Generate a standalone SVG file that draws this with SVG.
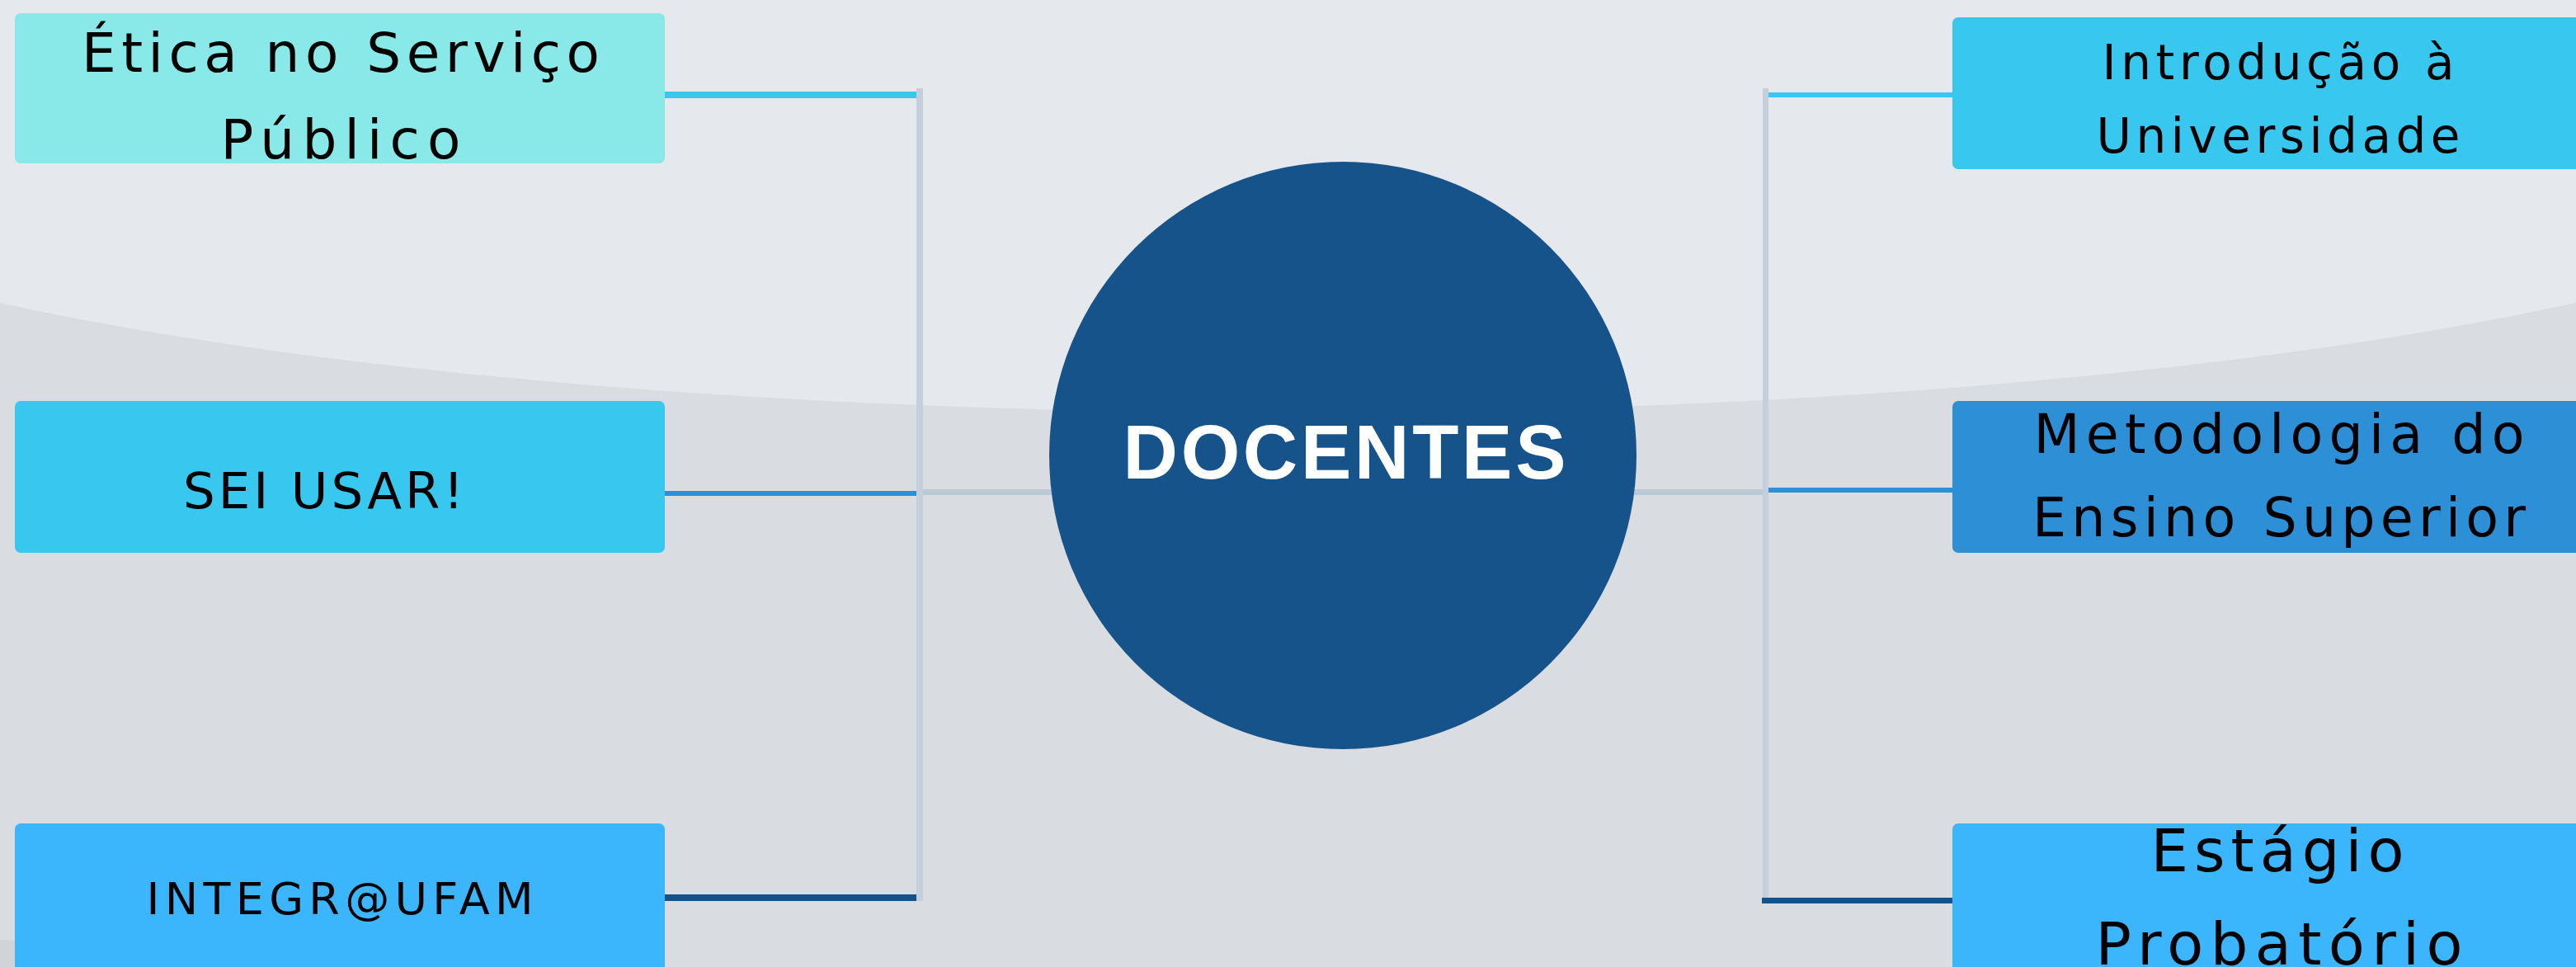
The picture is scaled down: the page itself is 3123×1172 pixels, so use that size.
<svg xmlns="http://www.w3.org/2000/svg" width="3123" height="1172" viewBox="0 0 3123 1172">
<style>
.lbl{font-family:"DejaVu Sans","Noto Sans","Liberation Sans",sans-serif;fill:#000;text-anchor:middle;}
.vline{fill:#c5cfdb;}
.gline{fill:#bcc8d4;}
.c1{fill:#38c8ef;}
.c2{fill:#2d8fd5;}
.c3{fill:#15528a;}
</style>
<rect x="0" y="0" width="3123" height="1172" fill="#d9dce1"/>
<ellipse cx="1561" cy="145" rx="2000" ry="355" fill="#e5e8ed"/>
<path d="M0,1139 C200,1148 400,1162 600,1172 L0,1172 Z" fill="#d0d3d7"/>

<g id="connectors">
  <rect class="vline" x="1111" y="107" width="8" height="985"/>
  <rect class="vline" x="2137" y="107" width="7" height="981"/>
  <rect class="gline" x="1119" y="593" width="160" height="7"/>
  <rect class="gline" x="1978" y="593" width="159" height="7"/>
  <rect class="c1" x="806" y="111" width="305" height="8"/>
  <rect class="c2" x="806" y="595" width="305" height="6"/>
  <rect class="c3" x="806" y="1084" width="305" height="8"/>
  <rect class="c1" x="2144" y="112" width="223" height="6"/>
  <rect class="c2" x="2144" y="591" width="223" height="6"/>
  <rect class="c3" x="2136" y="1088" width="231" height="7"/>
</g>

<g id="center">
  <circle cx="1628" cy="552" r="356" fill="#16538a"/>
  <text x="1630" y="580" font-family="'Liberation Sans',Arial,sans-serif" font-weight="bold" font-size="92" fill="#ffffff" text-anchor="middle" textLength="537" lengthAdjust="spacing">DOCENTES</text>
</g>

<g id="n-etica">
  <rect x="18" y="16" width="788" height="182" rx="7" fill="#88e9e8"/>
  <text class="lbl" x="413" y="87" font-size="66" textLength="628" lengthAdjust="spacing">Ética no Serviço</text>
  <text class="lbl" x="413" y="192" font-size="66" textLength="291" lengthAdjust="spacing">Público</text>
</g>

<g id="n-sei">
  <rect x="18" y="486" width="788" height="184" rx="7" fill="#38c8ef"/>
  <text class="lbl" x="392" y="616" font-size="61" textLength="340" lengthAdjust="spacing">SEI USAR!</text>
</g>

<g id="n-integra">
  <rect x="18" y="998" width="788" height="200" rx="7" fill="#3bb6fd"/>
  <text class="lbl" x="412" y="1108" font-size="54" textLength="469" lengthAdjust="spacing">INTEGR@UFAM</text>
</g>

<g id="n-intro">
  <rect x="2367" y="21" width="790" height="184" rx="7" fill="#38c8ef"/>
  <text class="lbl" x="2762" y="96" font-size="58" textLength="427" lengthAdjust="spacing">Introdução à</text>
  <text class="lbl" x="2762" y="185" font-size="58" textLength="441" lengthAdjust="spacing">Universidade</text>
</g>

<g id="n-metodologia">
  <rect x="2367" y="486" width="790" height="184" rx="7" fill="#2d8fd5"/>
  <text class="lbl" x="2763" y="549" font-size="65" textLength="595" lengthAdjust="spacing">Metodologia do</text>
  <text class="lbl" x="2763" y="650" font-size="65" textLength="598" lengthAdjust="spacing">Ensino Superior</text>
</g>

<g id="n-estagio">
  <rect x="2367" y="998" width="790" height="200" rx="7" fill="#3bb6fd"/>
  <text class="lbl" x="2761" y="1056" font-size="72" textLength="307" lengthAdjust="spacing">Estágio</text>
  <text class="lbl" x="2763" y="1169" font-size="72" textLength="445" lengthAdjust="spacing">Probatório</text>
</g>
</svg>
